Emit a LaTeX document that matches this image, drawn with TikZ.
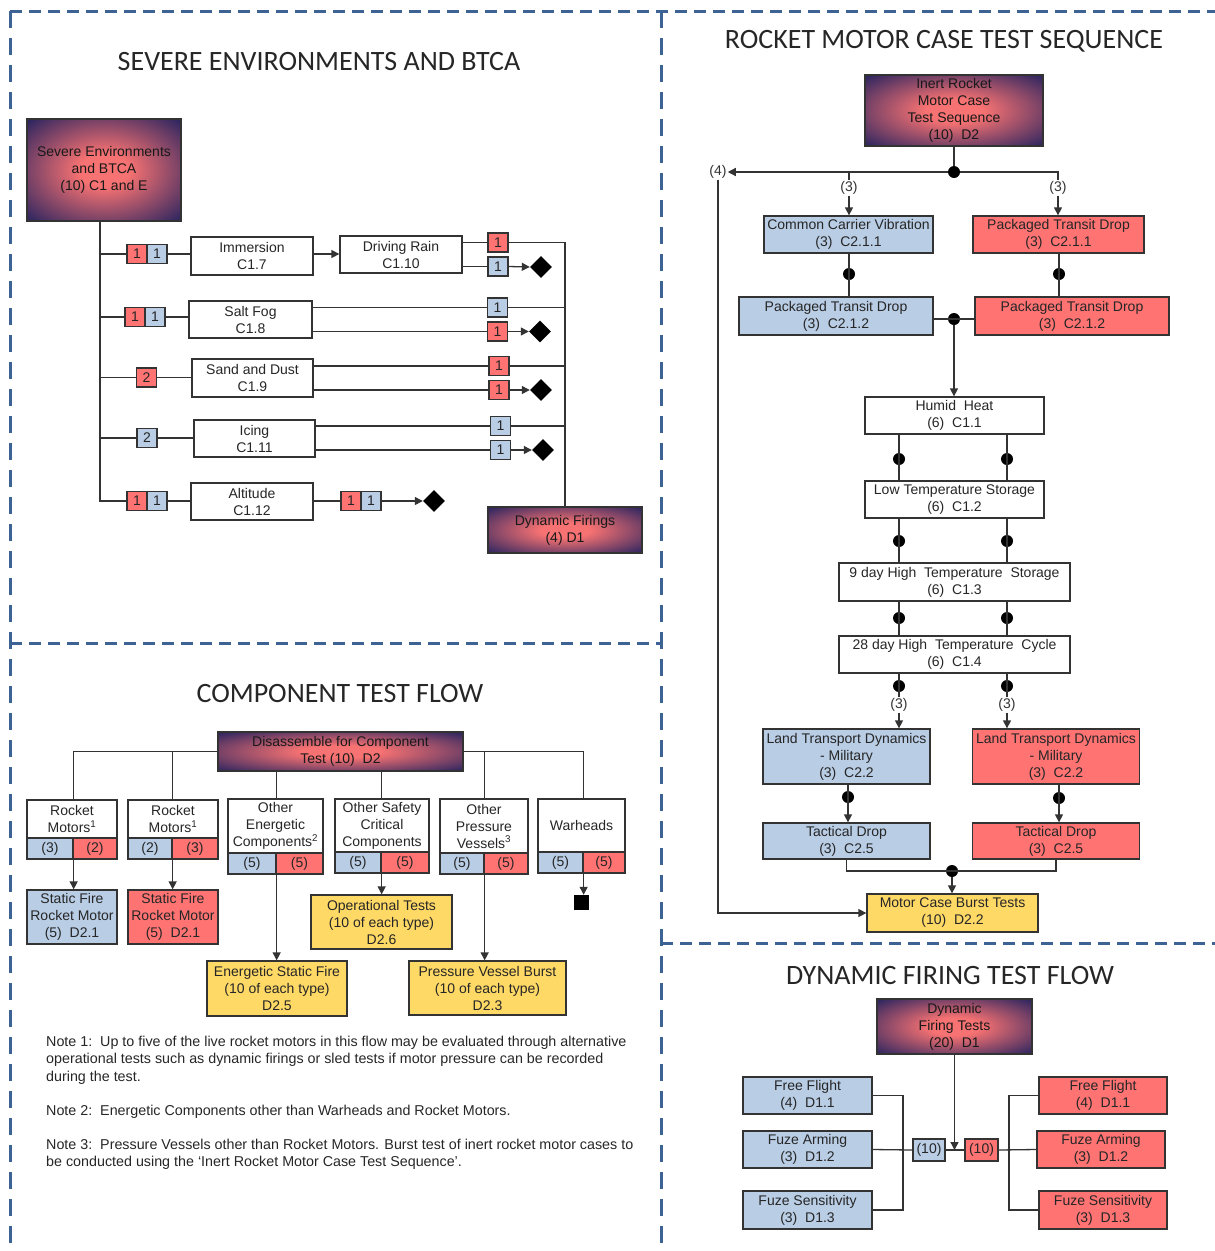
\documentclass[tikz,border=0pt]{standalone}
\usepackage{fontspec}
\setmainfont{Liberation Sans}
\newfontfamily\titlefont{Carlito}
\usetikzlibrary{arrows.meta,shapes.geometric}
\definecolor{frameblue}{HTML}{3D6294}
\definecolor{boxblue}{HTML}{B9CDE5}
\definecolor{boxred}{HTML}{FF7373}
\definecolor{boxgold}{HTML}{FFD966}
\definecolor{glowpink}{HTML}{F77272}
\definecolor{glownavy}{HTML}{1C1F5E}
\definecolor{edge}{HTML}{333333}
\pgfdeclareradialshading{glow}{\pgfpoint{0bp}{0bp}}{color(0bp)=(glowpink); color(8bp)=(glowpink); color(37bp)=(glownavy); color(100bp)=(glownavy)}
\begin{document}
\begin{tikzpicture}[x=1pt, y=-1pt, font=\fontsize{14}{17}\selectfont, >={Triangle[length=8pt,width=8pt]}]
	\tikzset{box/.style={draw=edge, line width=1.3pt, inner sep=0pt, align=center, text=black!85},
		wbox/.style={box, fill=white}, bbox/.style={box, fill=boxblue},
		rbox/.style={box, fill=boxred}, ybox/.style={box, fill=boxgold},
		gbox/.style={box, shade, shading=glow, text=black!90},
		sz/.style 2 args={minimum width=#1pt, minimum height=#2pt},
		tag/.style={minimum width=20pt, minimum height=19pt},
		dot/.style={circle, fill=black, inner sep=0pt, minimum size=12pt},
		kite/.style={diamond, fill=black, inner sep=0pt, minimum width=22pt, minimum height=22pt},
		lbl/.style={fill=white, inner sep=1pt, text=black!80},
		wire/.style={draw=edge, line width=1.3pt},
		ttl/.style={font=\titlefont\fontsize{28}{32}\selectfont, text=black!85},
		note/.style={anchor=north west, inner sep=0pt, align=left, font=\fontsize{14.3}{17.3}\selectfont, text=black!85},
		frame/.style={frameblue, line width=3pt}}
	\useasboundingbox (0,0) rectangle (1215,1251);
	\draw[frame, dash pattern=on 12pt off 7pt] (10,11) -- (1215,11);
	\draw[frame, dash pattern=on 17pt off 10pt] (10,11) -- (10,1251);
	\draw[frame, dash pattern=on 17pt off 10pt] (661,11) -- (661,1251);
	\draw[frame, dash pattern=on 12pt off 7pt] (10,643) -- (661,643);
	\draw[frame, dash pattern=on 12pt off 7pt] (661,943) -- (1215,943);

	\node[ttl] (t1) at (319,62) {SEVERE ENVIRONMENTS AND BTCA};
	\node[gbox, sz={154}{102}] (sev) at (104,170) {Severe Environments\\and BTCA\\(10) C1 and E};
	\node[rbox, tag] (ra1) at (137,254) {1};
	\node[bbox, tag] (ba1) at (157,254) {1};
	\node[wbox, sz={122}{38}] (imm) at (252,256) {Immersion\\C1.7};
	\node[wbox, sz={122}{37}] (rain) at (401,254.5) {Driving Rain\\C1.10};
	\node[rbox, tag] (rup1) at (498,242.5) {1};
	\node[bbox, tag] (rlo1) at (498,266.5) {1};
	\node[kite] (k1) at (541,267) {};
	\node[rbox, tag] (ra2) at (135,317) {1};
	\node[bbox, tag] (ba2) at (155,317) {1};
	\node[wbox, sz={123}{37}] (salt) at (250.5,319.5) {Salt Fog\\C1.8};
	\node[bbox, tag] (rup2) at (497.5,307.5) {1};
	\node[rbox, tag] (rlo2) at (497.5,331.5) {1};
	\node[kite] (k2) at (540,331.5) {};
	\node[rbox, tag] (ra3) at (146.5,377.5) {2};
	\node[wbox, sz={121}{38}] (sand) at (252.5,378) {Sand and Dust\\C1.9};
	\node[rbox, tag] (rup3) at (499,366) {1};
	\node[rbox, tag] (rlo3) at (499,390) {1};
	\node[kite] (k3) at (541,390) {};
	\node[bbox, tag] (ba4) at (147,438) {2};
	\node[wbox, sz={121}{37}] (ice) at (254.5,438.5) {Icing\\C1.11};
	\node[bbox, tag] (rup4) at (500.5,426) {1};
	\node[bbox, tag] (rlo4) at (500.5,450) {1};
	\node[kite] (k4) at (543,450) {};
	\node[rbox, tag] (ra5) at (137,501) {1};
	\node[bbox, tag] (ba5) at (157,501) {1};
	\node[wbox, sz={122}{37}] (alt) at (252,501.5) {Altitude\\C1.12};
	\node[rbox, tag] (rc5) at (351,501) {1};
	\node[bbox, tag] (bc5) at (371,501) {1};
	\node[kite] (k5) at (434,501) {};
	\node[gbox, sz={154}{46}] (dyn) at (565,530) {Dynamic Firings\\(4) D1};
	\coordinate (trunk) at (100,501);
	\draw[wire] (sev.south -| trunk) -- (trunk) -- (ra5.west);
	\draw[wire] (trunk |- ra1) -- (ra1.west);
	\draw[wire] (trunk |- ra2) -- (ra2.west);
	\draw[wire] (trunk |- ra3) -- (ra3.west);
	\draw[wire] (trunk |- ba4) -- (ba4.west);
	\draw[wire] (ba1.east) -- (ba1.east -| imm.west);
	\draw[wire] (ba2.east) -- (ba2.east -| salt.west);
	\draw[wire] (ra3.east) -- (ra3.east -| sand.west);
	\draw[wire] (ba4.east) -- (ba4.east -| ice.west);
	\draw[wire] (ba5.east) -- (ba5.east -| alt.west);
	\draw[wire,->] (imm.east |- ba1) -- (rain.west |- ba1);
	\draw[wire] (rain.east |- rup1) -- (rup1.west);
	\draw[wire] (rup1.east) -| (dyn.north);
	\draw[wire] (rain.east |- rlo1) -- (rlo1.west);
	\draw[wire,->] (rlo1.east) -- (k1.west);
	\draw[wire] (salt.east |- rup2) -- (rup2.west);
	\draw[wire] (rup2.east) -- (rup2.east -| dyn.north);
	\draw[wire] (salt.east |- rlo2) -- (rlo2.west);
	\draw[wire,->] (rlo2.east) -- (k2.west);
	\draw[wire] (sand.east |- rup3) -- (rup3.west);
	\draw[wire] (rup3.east) -- (rup3.east -| dyn.north);
	\draw[wire] (sand.east |- rlo3) -- (rlo3.west);
	\draw[wire,->] (rlo3.east) -- (k3.west);
	\draw[wire] (ice.east |- rup4) -- (rup4.west);
	\draw[wire] (rup4.east) -- (rup4.east -| dyn.north);
	\draw[wire] (ice.east |- rlo4) -- (rlo4.west);
	\draw[wire,->] (rlo4.east) -- (k4.west);
	\draw[wire] (alt.east |- rc5) -- (rc5.west);
	\draw[wire,->] (bc5.east) -- (k5.west);

	\node[ttl] (t2) at (944,41) {ROCKET MOTOR CASE TEST SEQUENCE};
	\node[gbox, sz={178}{71}] (inert) at (954,110.5) {Inert Rocket\\Motor Case\\Test Sequence\\(10)\ \ D2};
	\node[dot] (j0) at (954,172) {};
	\node[lbl] (n4) at (718,172) {(4)};
	\node[lbl] (n3l) at (849,188) {(3)};
	\node[lbl] (n3r) at (1058,188) {(3)};
	\node[bbox, sz={169}{37}] (ccv) at (848.5,234.5) {Common Carrier Vibration\\(3)\ \ C2.1.1};
	\node[rbox, sz={171}{37}] (ptd1) at (1058.5,234.5) {Packaged Transit Drop\\(3)\ \ C2.1.1};
	\node[dot] (jl1) at (849,274) {};
	\node[dot] (jr1) at (1059,274) {};
	\node[bbox, sz={194}{38}] (ptdb) at (836,316) {Packaged Transit Drop\\(3)\ \ C2.1.2};
	\node[rbox, sz={194}{38}] (ptdr) at (1072,316) {Packaged Transit Drop\\(3)\ \ C2.1.2};
	\node[dot] (j1) at (954,319) {};
	\node[wbox, sz={179}{37}] (hh) at (954.5,415.5) {Humid\ \ Heat\\(6)\ \ C1.1};
	\node[wbox, sz={179}{37}] (lts) at (954.5,499.5) {Low Temperature Storage\\(6)\ \ C1.2};
	\node[wbox, sz={231}{38}] (hts) at (954.5,582) {9 day High\ \ Temperature\ \ Storage\\(6)\ \ C1.3};
	\node[wbox, sz={231}{37}] (htc) at (954.5,654.5) {28 day High\ \ Temperature\ \ Cycle\\(6)\ \ C1.4};
	\node[dot] (d1l) at (899,459) {};
	\node[dot] (d1r) at (1007,459) {};
	\node[dot] (d2l) at (899,541) {};
	\node[dot] (d2r) at (1007,541) {};
	\node[dot] (d3l) at (899,618) {};
	\node[dot] (d3r) at (1007,618) {};
	\node[dot] (d4l) at (899,686) {};
	\node[dot] (d4r) at (1007,686) {};
	\node[lbl] (n3a) at (899,705) {(3)};
	\node[lbl] (n3b) at (1007,705) {(3)};
	\node[bbox, sz={167}{55}] (ltdb) at (846.5,756.5) {Land Transport Dynamics\\- Military\\(3)\ \ C2.2};
	\node[rbox, sz={167}{55}] (ltdr) at (1056,756.5) {Land Transport Dynamics\\- Military\\(3)\ \ C2.2};
	\node[dot] (d5l) at (848,797) {};
	\node[dot] (d5r) at (1059,798) {};
	\node[bbox, sz={167}{36}] (tdb) at (846.5,841) {Tactical Drop\\(3)\ \ C2.5};
	\node[rbox, sz={167}{36}] (tdr) at (1056,841) {Tactical Drop\\(3)\ \ C2.5};
	\node[dot] (j2) at (952,871) {};
	\node[ybox, sz={171}{38}] (burst) at (952.5,913) {Motor Case Burst Tests\\(10)\ \ D2.2};
	\draw[wire] (inert.south) -- (j0);
	\draw[wire,->] (j0) -- (n4.east);
	\draw[wire] (j0) -| (n3l.north);
	\draw[wire] (j0) -| (n3r.north);
	\draw[wire,->] (n3l.south) -- (ccv.north -| n3l);
	\draw[wire,->] (n3r.south) -- (ptd1.north -| n3r);
	\draw[wire] (ccv.south -| jl1) -- (ptdb.north -| jl1);
	\draw[wire] (ptd1.south -| jr1) -- (ptdr.north -| jr1);
	\draw[wire] (ptdb.east |- j1) -- (ptdr.west |- j1);
	\draw[wire,->] (j1) -- (hh.north -| j1);
	\draw[wire] (hh.south -| d1l) -- (lts.north -| d1l);
	\draw[wire] (hh.south -| d1r) -- (lts.north -| d1r);
	\draw[wire] (lts.south -| d2l) -- (hts.north -| d2l);
	\draw[wire] (lts.south -| d2r) -- (hts.north -| d2r);
	\draw[wire] (hts.south -| d3l) -- (htc.north -| d3l);
	\draw[wire] (hts.south -| d3r) -- (htc.north -| d3r);
	\draw[wire] (htc.south -| d4l) -- (n3a.north);
	\draw[wire] (htc.south -| d4r) -- (n3b.north);
	\draw[wire,->] (n3a.south) -- (ltdb.north -| n3a);
	\draw[wire,->] (n3b.south) -- (ltdr.north -| n3b);
	\draw[wire,->] (ltdb.south -| d5l) -- (tdb.north -| d5l);
	\draw[wire,->] (ltdr.south -| d5r) -- (tdr.north -| d5r);
	\draw[wire] (tdb.south) |- (j2.center) -| (tdr.south);
	\draw[wire,->] (j2) -- (burst.north -| j2);
	\draw[wire,->] (n4.south) |- (burst.west);

	\node[ttl] (t3) at (340,693) {COMPONENT TEST FLOW};
	\node[gbox, sz={245}{39}] (dis) at (340.5,751.5) {Disassemble for Component\\Test (10)\ \ D2};
	\node[wbox, sz={90}{38}] (rm1) at (72,819) {Rocket\\Motors\textsuperscript{1}};
	\node[bbox, sz={46}{21}] (rm1b) at (50,848.5) {(3)};
	\node[rbox, sz={44}{21}] (rm1r) at (95,848.5) {(2)};
	\node[wbox, sz={90}{38}] (rm2) at (173,819) {Rocket\\Motors\textsuperscript{1}};
	\node[bbox, sz={44}{21}] (rm2b) at (150,848.5) {(2)};
	\node[rbox, sz={46}{21}] (rm2r) at (195,848.5) {(3)};
	\node[bbox, sz={90}{54}] (sf1) at (72,917) {Static Fire\\Rocket Motor\\(5)\ \ D2.1};
	\node[rbox, sz={90}{54}] (sf2) at (173,917) {Static Fire\\Rocket Motor\\(5)\ \ D2.1};
	\node[wbox, sz={95}{54}] (oe) at (275.5,826) {Other\\Energetic\\Components\textsuperscript{2}};
	\node[bbox, sz={48}{21}] (oeb) at (252,863.5) {(5)};
	\node[rbox, sz={47}{21}] (oer) at (299.5,863.5) {(5)};
	\node[wbox, sz={94}{53}] (os) at (382,825.5) {Other Safety\\Critical\\Components};
	\node[bbox, sz={46}{21}] (osb) at (358,862.5) {(5)};
	\node[rbox, sz={48}{21}] (osr) at (405,862.5) {(5)};
	\node[wbox, sz={88}{54}] (op) at (484,826) {Other\\Pressure\\Vessels\textsuperscript{3}};
	\node[bbox, sz={44}{21}] (opb) at (462,863.5) {(5)};
	\node[rbox, sz={44}{21}] (opr) at (506,863.5) {(5)};
	\node[wbox, sz={87}{53}] (wh) at (581.5,825.5) {Warheads};
	\node[bbox, sz={45}{21}] (whb) at (560.5,862.5) {(5)};
	\node[rbox, sz={42}{21}] (whr) at (604,862.5) {(5)};
	\node[ybox, sz={141}{54}] (opt) at (381.5,922) {Operational Tests\\(10 of each type)\\D2.6};
	\node[ybox, sz={140}{55}] (esf) at (277,988.5) {Energetic Static Fire\\(10 of each type)\\D2.5};
	\node[ybox, sz={157}{54}] (pvb) at (487.5,988) {Pressure Vessel Burst\\(10 of each type)\\D2.3};
	\node[fill=black, inner sep=0pt, minimum size=15pt] (stop) at (581.5,902.5) {};
	\draw[wire] (dis.west) -| (rm1b.east |- rm1.north);
	\draw[wire] (rm2b.east |- dis.west) -- (rm2b.east |- rm2.north);
	\draw[wire] (dis.east) -| (whb.east |- wh.north);
	\draw[wire] (opb.east |- dis.east) -- (opb.east |- op.north);
	\draw[wire] (oeb.east |- dis.south) -- (oeb.east |- oe.north);
	\draw[wire] (osb.east |- dis.south) -- (osb.east |- os.north);
	\draw[wire,->] (rm1b.south east) -- (rm1b.east |- sf1.north);
	\draw[wire,->] (rm2b.south east) -- (rm2b.east |- sf2.north);
	\draw[wire,->] (oeb.south east) -- (oeb.east |- esf.north);
	\draw[wire,->] (osb.south east) -- (osb.east |- opt.north);
	\draw[wire,->] (opb.south east) -- (opb.east |- pvb.north);
	\draw[wire,->] (whb.south east) -- (whb.east |- stop.north);
	\node[note] (note1) at (46,1036) {Note 1:\ \ Up to five of the live rocket motors in this flow may be evaluated through alternative\\operational tests such as dynamic firings or sled tests if motor pressure can be recorded\\during the test.};
	\node[note] (note2) at (46,1105) {Note 2:\ \ Energetic Components other than Warheads and Rocket Motors.};
	\node[note] (note3) at (46,1139) {Note 3:\ \ Pressure Vessels other than Rocket Motors. Burst test of inert rocket motor cases to\\be conducted using the `Inert Rocket Motor Case Test Sequence'.};

	\node[ttl] (t4) at (950,975) {DYNAMIC FIRING TEST FLOW};
	\node[gbox, sz={155}{55}] (dft) at (954.5,1026.5) {Dynamic\\Firing Tests\\(20)\ \ D1};
	\node[bbox, sz={32}{22}] (tb) at (929,1150) {(10)};
	\node[rbox, sz={33}{22}] (tr) at (981.5,1150) {(10)};
	\node[bbox, sz={129}{37}] (ffb) at (807.5,1095.5) {Free Flight\\(4)\ \ D1.1};
	\node[bbox, sz={129}{37}] (fab) at (807.5,1149.5) {Fuze Arming\\(3)\ \ D1.2};
	\node[bbox, sz={129}{38}] (fsb) at (807.5,1210) {Fuze Sensitivity\\(3)\ \ D1.3};
	\node[rbox, sz={128}{37}] (ffr) at (1103,1095.5) {Free Flight\\(4)\ \ D1.1};
	\node[rbox, sz={128}{37}] (far) at (1101,1149.5) {Fuze Arming\\(3)\ \ D1.2};
	\node[rbox, sz={128}{38}] (fsr) at (1103,1210) {Fuze Sensitivity\\(3)\ \ D1.3};
	\coordinate (brb) at (903,1150);
	\coordinate (brr) at (1009,1150);
	\draw[wire] (ffb.east) -| (brb) |- (fsb.east);
	\draw[wire] (ffr.west) -| (brr) |- (fsr.west);
	\draw[wire] (fab.east) -- (tb.west);
	\draw[wire] (tb.east) -- (tr.west);
	\draw[wire] (tr.east) -- (far.west);
	\draw[wire,->] (dft.south) -- (dft.south |- tb.east);
\end{tikzpicture}
\end{document}
